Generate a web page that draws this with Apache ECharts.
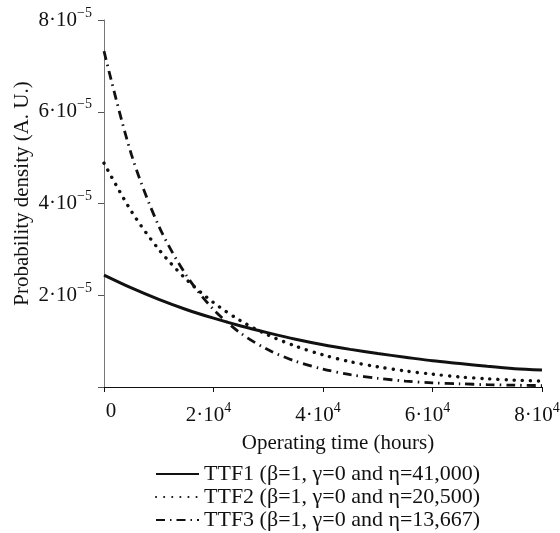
<!DOCTYPE html>
<html>
<head>
<meta charset="utf-8">
<script src="https://cdn.jsdelivr.net/npm/echarts@6/dist/echarts.min.js"></script>
<style>
  html, body { margin: 0; padding: 0; background: #fff; }
</style>
</head>
<body>
<div id="chart" style="width: 560px;height: 533px"></div>
<script>
// operating time (hours)
const hours = [0, 5000, 10000, 15000, 20000, 25000, 30000, 35000, 40000,
  45000, 50000, 55000, 60000, 65000, 70000, 75000, 80000]
// probability density, in units of 1e-5
const ttf1 = [2.44, 2.16, 1.91, 1.69, 1.50, 1.33, 1.18, 1.04, 0.92, 0.82, 0.73, 0.65, 0.57, 0.51, 0.45, 0.40, 0.37]
const ttf2 = [4.88, 3.83, 3.00, 2.35, 1.84, 1.44, 1.13, 0.89, 0.70, 0.55, 0.44, 0.35, 0.28, 0.22, 0.18, 0.15, 0.13]
const ttf3 = [7.32, 5.07, 3.51, 2.44, 1.69, 1.17, 0.81, 0.56, 0.39, 0.27, 0.19, 0.13, 0.09, 0.07, 0.05, 0.04, 0.03]
const seriesNames = [
  'TTF1 (β=1, γ=0 and η=41,000)',
  'TTF2 (β=1, γ=0 and η=20,500)',
  'TTF3 (β=1, γ=0 and η=13,667)',
]
const yTicks = ['', '2', '4', '6', '8']   // mantissas of the y tick labels (×10^-5)
const xTicks = ['0', '2', '4', '6', '8']   // mantissas of the x tick labels (×10^4)

const font = 'Liberation Serif'
const toPairs = arr => hours.map((h, i) => [h, arr[i] * 1e-5])

const rich = {
  b: { fontFamily: font, fontSize: 21, color: '#111' },
  z: { fontFamily: font, fontSize: 21, color: '#111', padding: [0, 0, 0, 14] },
  s: { fontFamily: font, fontSize: 14, color: '#111', padding: [0, 0, 14, 0] },
  x: { fontFamily: font, fontSize: 14, color: '#111', padding: [0, 10, 14, 0] }, // x-axis exponent, nudges label left
}

let chart = echarts.init(document.getElementById('chart'))
chart.setOption({
  backgroundColor: '#fff',
  animation: false,
  grid: { left: 104, right: 18, top: 20, bottom: 146, outerBoundsMode: 'none', containLabel: false },
  legend: {
    orient: 'vertical',
    left: 150,
    top: 458,
    height: 80,
    itemWidth: 43,
    itemHeight: 14,
    itemGap: 1,
    itemStyle: { opacity: 0 },
    textStyle: { fontFamily: font, fontSize: 22, color: '#111' },
    data: seriesNames,
  },
  xAxis: {
    type: 'value',
    min: 0,
    max: 80000,
    interval: 20000,
    name: 'Operating time (hours)',
    nameLocation: 'middle',
    nameGap: 46,
    nameTextStyle: { fontFamily: font, fontSize: 21, color: '#111', padding: [0, 0, 0, 30] },
    axisLine: { lineStyle: { color: '#111', width: 1 } },
    axisTick: { length: 5, lineStyle: { color: '#111' } },
    splitLine: { show: false },
    axisLabel: {
      margin: 14,
      formatter: v => {
        const m = xTicks[Math.round(v / 20000)]
        return m === '0' ? '{z|0}' : '{b|' + m + '·10}{x|4}'
      },
      rich: rich,
    },
  },
  yAxis: {
    type: 'value',
    min: 0,
    max: 8e-5,
    interval: 2e-5,
    name: 'Probability density (A. U.)',
    nameLocation: 'middle',
    nameGap: 71,
    nameMoveOverlap: false,
    nameTextStyle: { fontFamily: font, fontSize: 21, color: '#111', padding: [0, 0, 0, 20] },
    axisLine: { show: true, lineStyle: { color: '#777', width: 1 } },
    axisTick: { show: true, length: 6, lineStyle: { color: '#555' } },
    splitLine: { show: false },
    axisLabel: {
      margin: 12,
      formatter: v => {
        const m = yTicks[Math.round(v / 2e-5)]
        return m ? '{b|' + m + '·10}{s|−5}' : ''
      },
      rich: rich,
    },
  },
  series: [
    {
      name: seriesNames[0],
      type: 'line',
      smooth: 0.3,
      symbol: 'none',
      lineStyle: { color: '#111', width: 3 },
      itemStyle: { color: '#111' },
      data: toPairs(ttf1),
    },
    {
      name: seriesNames[1],
      type: 'line',
      smooth: 0.3,
      symbol: 'none',
      lineStyle: { color: '#111', width: 3.4, type: [0.1, 8], cap: 'round' },
      itemStyle: { color: '#111' },
      data: toPairs(ttf2),
    },
    {
      name: seriesNames[2],
      type: 'line',
      smooth: 0.3,
      symbol: 'none',
      lineStyle: { color: '#111', width: 2.8, type: [9, 5, 1.5, 5] },
      itemStyle: { color: '#111' },
      data: toPairs(ttf3),
    },
  ],
})
</script>
</body>
</html>
